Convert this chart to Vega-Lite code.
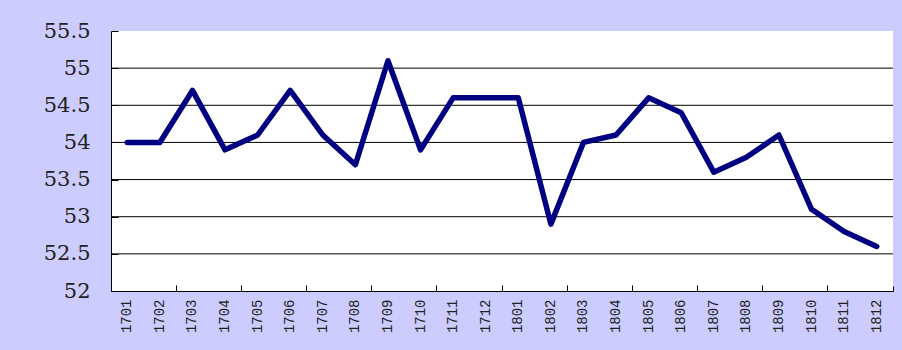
{
  "$schema": "https://vega.github.io/schema/vega-lite/v6.json",
  "width": 782,
  "height": 260,
  "autosize": {"type": "none"},
  "padding": {"left": 111, "top": 31, "right": 9, "bottom": 59},
  "background": "#CCCCFF",
  "config": {"view": {"fill": "white", "stroke": null}},
  "datasets": {
    "series": [
      {"year": "1701", "value": 54.0},
      {"year": "1702", "value": 54.0},
      {"year": "1703", "value": 54.7},
      {"year": "1704", "value": 53.9},
      {"year": "1705", "value": 54.1},
      {"year": "1706", "value": 54.7},
      {"year": "1707", "value": 54.1},
      {"year": "1708", "value": 53.7},
      {"year": "1709", "value": 55.1},
      {"year": "1710", "value": 53.9},
      {"year": "1711", "value": 54.6},
      {"year": "1712", "value": 54.6},
      {"year": "1801", "value": 54.6},
      {"year": "1802", "value": 52.9},
      {"year": "1803", "value": 54.0},
      {"year": "1804", "value": 54.1},
      {"year": "1805", "value": 54.6},
      {"year": "1806", "value": 54.4},
      {"year": "1807", "value": 53.6},
      {"year": "1808", "value": 53.8},
      {"year": "1809", "value": 54.1},
      {"year": "1810", "value": 53.1},
      {"year": "1811", "value": 52.8},
      {"year": "1812", "value": 52.6}
    ],
    "grid": [
      {"g": 52.5}, {"g": 53}, {"g": 53.5}, {"g": 54}, {"g": 54.5}, {"g": 55}
    ]
  },
  "layer": [
    {
      "data": {"name": "grid"},
      "mark": {"type": "rule", "color": "black", "strokeWidth": 1},
      "encoding": {
        "y": {
          "field": "g", "type": "quantitative",
          "scale": {"domain": [52, 55.5], "nice": false, "zero": false},
          "axis": {
            "title": null,
            "values": [52, 52.5, 53, 53.5, 54, 54.5, 55, 55.5],
            "labelExpr": "datum.value",
            "labelFont": "DejaVu Serif",
            "labelFontSize": 21,
            "labelFontWeight": "normal",
            "labelColor": "#222222",
            "labelPadding": 28,
            "domain": true, "domainColor": "black", "domainWidth": 1,
            "ticks": true, "tickColor": "black", "tickSize": -7, "tickWidth": 1,
            "grid": false
          }
        }
      }
    },
    {
      "data": {"name": "series"},
      "mark": {"type": "line", "color": "#000080", "strokeWidth": 5.5, "strokeJoin": "round", "strokeCap": "round"},
      "encoding": {
        "x": {
          "field": "year", "type": "ordinal", "sort": null, "bandPosition": 0.5,
          "scale": {"type": "band", "paddingInner": 0, "paddingOuter": 0},
          "axis": {
            "title": null, "orient": "bottom",
            "labelAngle": -90,
            "labelFont": "Liberation Mono", "labelFontSize": 14, "labelColor": "#222222",
            "labelPadding": 8,
            "ticks": false,
            "domain": true, "domainColor": "black", "domainWidth": 1,
            "grid": false
          }
        },
        "y": {"field": "value", "type": "quantitative", "scale": {"domain": [52, 55.5], "nice": false, "zero": false}, "axis": null}
      }
    },
    {
      "data": {"name": "series"},
      "mark": {"type": "line", "opacity": 0},
      "encoding": {
        "x": {
          "field": "year", "type": "ordinal", "sort": null, "bandPosition": 0.5,
          "scale": {"type": "band", "paddingInner": 0, "paddingOuter": 0},
          "axis": {
            "title": null, "orient": "bottom",
            "values": ["1703", "1705", "1707", "1709", "1711", "1801", "1803", "1805", "1807", "1809", "1811"],
            "bandPosition": 0,
            "labels": false,
            "ticks": true, "tickColor": "black", "tickSize": -6, "tickWidth": 1,
            "domain": false, "grid": false
          }
        },
        "y": {"field": "value", "type": "quantitative", "scale": {"domain": [52, 55.5], "nice": false, "zero": false}, "axis": null}
      }
    },
    {
      "data": {"name": "series"},
      "mark": {"type": "line", "opacity": 0},
      "encoding": {
        "x": {
          "field": "year", "type": "ordinal", "sort": null, "bandPosition": 0.5,
          "scale": {"type": "band", "paddingInner": 0, "paddingOuter": 0},
          "axis": {
            "title": null, "orient": "bottom",
            "values": ["1812"],
            "bandPosition": 1,
            "labels": false,
            "ticks": true, "tickColor": "black", "tickSize": -5, "tickWidth": 1,
            "domain": false, "grid": false
          }
        },
        "y": {"field": "value", "type": "quantitative", "scale": {"domain": [52, 55.5], "nice": false, "zero": false}, "axis": null}
      }
    }
  ],
  "resolve": {"axis": {"x": "independent", "y": "independent"}}
}
